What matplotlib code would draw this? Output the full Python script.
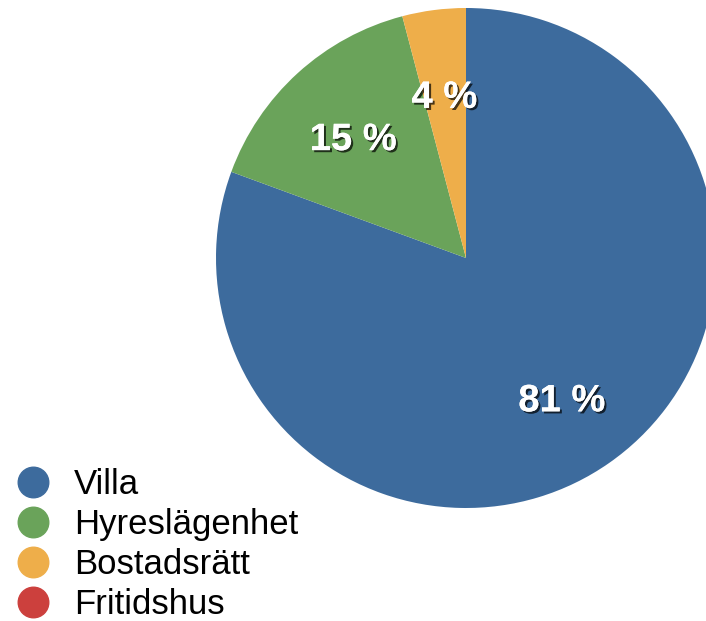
import matplotlib.pyplot as plt
import matplotlib.patheffects as pe
from matplotlib.lines import Line2D

# andelar per boendeform (procent)
kategorier = ["Villa", "Hyreslägenhet", "Bostadsrätt", "Fritidshus"]
andelar = [80.6, 15.3, 4.1, 0.0]
etiketter = ["81 %", "15 %", "4 %", ""]
farger = ["#3d6b9d", "#6aa35a", "#eeae4a", "#cc403d"]

plt.rcParams["font.family"] = ["Liberation Sans", "DejaVu Sans"]

fig = plt.figure(figsize=(7.06, 6.21), dpi=100)
ax = fig.add_axes([0, 0, 1, 1])

# bara de skivor som har värde ritas
idx = [i for i, v in enumerate(andelar) if v > 0]
wedges, texts = ax.pie([andelar[i] for i in idx],
                       colors=[farger[i] for i in idx],
                       labels=[etiketter[i] for i in idx],
                       labeldistance=0.67,
                       startangle=90, counterclock=False,
                       center=(466, 363), radius=250,
                       frame=True,
                       textprops=dict(color="white", fontsize=27.5, fontweight="bold",
                                      ha="center", va="center"))
ax.set_xlim(0, 706)
ax.set_ylim(0, 621)
ax.set_aspect("equal")
ax.axis("off")
for t in texts:
    x, y = t.get_position()
    t.set_position((x, y - 6))
    t.set_path_effects([pe.withSimplePatchShadow(offset=(1.5, -1.5), shadow_rgbFace="black", alpha=0.7),
                        pe.Normal()])

handles = [Line2D([], [], marker="o", linestyle="none", markersize=22,
                  markerfacecolor=c, markeredgecolor=c) for c in farger]
fig.legend(handles, kategorier, loc="lower left", bbox_to_anchor=(5 / 706, 0.0),
           frameon=False, fontsize=25, labelspacing=0.2, handletextpad=0.37,
           handlelength=1.61, borderpad=0.0, borderaxespad=0.0)

plt.savefig("out.png", dpi=100)
